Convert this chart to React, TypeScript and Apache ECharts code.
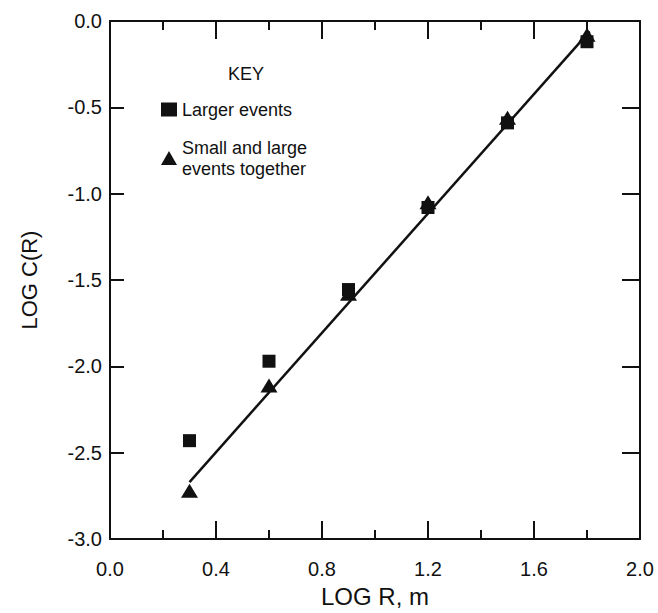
import React, { useEffect, useRef } from "react";
import * as echarts from "echarts";

// Correlation integral: log C(R) against log R
const logR = [0.3, 0.6, 0.9, 1.2, 1.5, 1.8];
const largerEvents = [-2.43, -1.97, -1.555, -1.08, -0.59, -0.12];
const allEvents = [-2.72, -2.11, -1.58, -1.05, -0.56, -0.08];
const fitLine = [
  [0.3, -2.67],
  [1.81, -0.06],
];
const xTicks = [0, 0.4, 0.8, 1.2, 1.6, 2.0];
const yTicks = [0, -0.5, -1.0, -1.5, -2.0, -2.5, -3.0];

const FONT = "'Liberation Sans', Arial, Helvetica, sans-serif";
const INK = "#111";

export default function App() {
  const ref = useRef<HTMLDivElement>(null);

  useEffect(() => {
    if (!ref.current) return;
    const chart = echarts.init(ref.current, undefined, { renderer: "svg" });

    const xBase = {
      type: "value" as const,
      min: xTicks[0],
      max: xTicks[xTicks.length - 1],
      interval: 0.4,
      axisLine: { show: true, onZero: false, lineStyle: { color: INK, width: 2 } },
      axisTick: { show: true, inside: true, length: 18, lineStyle: { color: INK, width: 2 } },
      minorTick: { show: true, splitNumber: 2, length: 9, lineStyle: { color: INK, width: 2 } },
      splitLine: { show: false },
      minorSplitLine: { show: false },
    };
    const yBase = {
      type: "value" as const,
      min: yTicks[yTicks.length - 1],
      max: yTicks[0],
      interval: 0.5,
      axisLine: { show: true, onZero: false, lineStyle: { color: INK, width: 2 } },
      axisTick: { show: true, inside: true, length: 14, lineStyle: { color: INK, width: 2 } },
      splitLine: { show: false },
    };

    chart.setOption({
      animation: false,
      backgroundColor: "#fff",
      textStyle: { fontFamily: FONT, color: INK },
      grid: { left: 110, right: 18, top: 21, bottom: 67 },
      xAxis: [
        {
          ...xBase,
          position: "bottom",
          name: "LOG R, m",
          nameLocation: "middle",
          nameGap: 42,
          nameTextStyle: { fontSize: 24, color: INK, fontFamily: FONT },
          axisLabel: {
            fontSize: 20,
            color: INK,
            fontFamily: FONT,
            margin: 20,
            formatter: (v: number) => v.toFixed(1),
          },
        },
        { ...xBase, position: "top", axisLabel: { show: false } },
      ],
      yAxis: [
        {
          ...yBase,
          position: "left",
          name: "LOG C(R)",
          nameLocation: "middle",
          nameGap: 70,
          nameTextStyle: { fontSize: 22, color: INK, fontFamily: FONT },
          axisLabel: {
            fontSize: 20,
            color: INK,
            fontFamily: FONT,
            margin: 8,
            formatter: (v: number) => v.toFixed(1),
          },
        },
        { ...yBase, position: "right", axisTick: { ...yBase.axisTick, length: 18 }, axisLabel: { show: false } },
      ],
      legend: {
        orient: "vertical",
        left: 156,
        top: 94,
        itemWidth: 16,
        itemHeight: 14,
        itemGap: 17,
        data: ["Larger events", "Small and large\nevents together"],
        textStyle: { fontSize: 18, color: INK, fontFamily: FONT, lineHeight: 21 },
      },
      graphic: [
        {
          type: "text",
          left: 228,
          top: 65,
          style: { text: "KEY", fontSize: 18, fill: INK, fontFamily: FONT },
        },
      ],
      series: [
        {
          name: "Small and large\nevents together",
          type: "scatter",
          symbol: "triangle",
          symbolSize: [17, 14],
          itemStyle: { color: INK, opacity: 1 },
          data: logR.map((x, i) => [x, allEvents[i]]),
          z: 3,
        },
        {
          name: "Larger events",
          type: "scatter",
          symbol: "rect",
          symbolSize: 13,
          itemStyle: { color: INK, opacity: 1 },
          data: logR.map((x, i) => [x, largerEvents[i]]),
          z: 3,
        },
        {
          name: "fit",
          type: "line",
          data: fitLine,
          symbol: "none",
          lineStyle: { color: INK, width: 2.5 },
          z: 4,
        },
      ],
    });

    return () => chart.dispose();
  }, []);

  return (
    <div
      ref={ref}
      style={{ position: "fixed", left: 0, top: 0, width: 658, height: 613, background: "#fff" }}
    />
  );
}
